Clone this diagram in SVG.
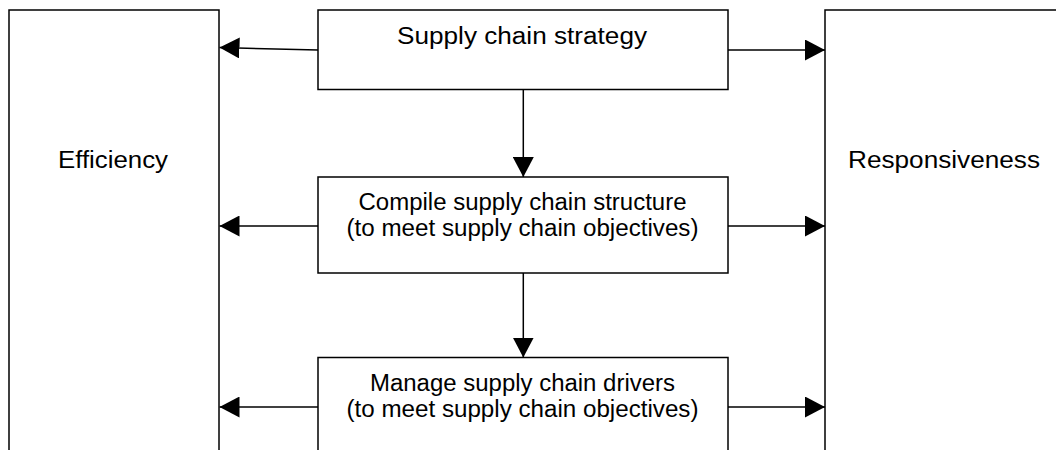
<svg xmlns="http://www.w3.org/2000/svg" width="1056" height="450" viewBox="0 0 1056 450">
  <style>
    .box { fill: #ffffff; stroke: #000000; stroke-width: 1.5; }
    .lbl { font-family: "Liberation Sans", Arial, sans-serif; font-size: 23.5px; fill: #000000; text-anchor: middle; }
    .edge { stroke: #000000; stroke-width: 1.5; fill: none; marker-end: url(#arrow); }
  </style>
  <defs>
    <marker id="arrow" markerUnits="userSpaceOnUse" markerWidth="20" markerHeight="21" refX="20" refY="10.5" orient="auto" viewBox="0 0 20 21">
      <path d="M0,0 L20,10.5 L0,21 Z" fill="#000000"/>
    </marker>
  </defs>
  <rect width="1056" height="450" fill="#ffffff"/>

  <g id="efficiency">
    <rect class="box" x="9" y="10" width="210" height="460"/>
    <text class="lbl" x="113" y="168" textLength="110" lengthAdjust="spacingAndGlyphs">Efficiency</text>
  </g>

  <g id="responsiveness">
    <rect class="box" x="825" y="10" width="260" height="460"/>
    <text class="lbl" x="944" y="168" textLength="192" lengthAdjust="spacingAndGlyphs">Responsiveness</text>
  </g>

  <g id="strategy">
    <rect class="box" x="318" y="10" width="410" height="79.5"/>
    <text class="lbl" x="522" y="44" textLength="250" lengthAdjust="spacingAndGlyphs">Supply chain strategy</text>
  </g>

  <g id="structure">
    <rect class="box" x="318" y="177" width="410" height="96"/>
    <text class="lbl" x="522.5" y="209.5" textLength="328" lengthAdjust="spacingAndGlyphs">Compile supply chain structure</text>
    <text class="lbl" x="522.5" y="235.5" textLength="352" lengthAdjust="spacingAndGlyphs">(to meet supply chain objectives)</text>
  </g>

  <g id="drivers">
    <rect class="box" x="318" y="357.5" width="410" height="120"/>
    <text class="lbl" x="522.5" y="390.5" textLength="305" lengthAdjust="spacingAndGlyphs">Manage supply chain drivers</text>
    <text class="lbl" x="522.5" y="416.5" textLength="352" lengthAdjust="spacingAndGlyphs">(to meet supply chain objectives)</text>
  </g>

  <g id="connectors">
    <line class="edge" x1="318" y1="50" x2="219.5" y2="47.5"/>
    <line class="edge" x1="728" y1="50" x2="825" y2="50"/>
    <line class="edge" x1="523.3" y1="89.5" x2="523.3" y2="177"/>
    <line class="edge" x1="318" y1="226" x2="219.5" y2="226"/>
    <line class="edge" x1="728" y1="226" x2="825" y2="226"/>
    <line class="edge" x1="523.3" y1="273" x2="523.3" y2="357.5"/>
    <line class="edge" x1="318" y1="407" x2="219.5" y2="407"/>
    <line class="edge" x1="728" y1="407" x2="825" y2="407"/>
  </g>
</svg>
